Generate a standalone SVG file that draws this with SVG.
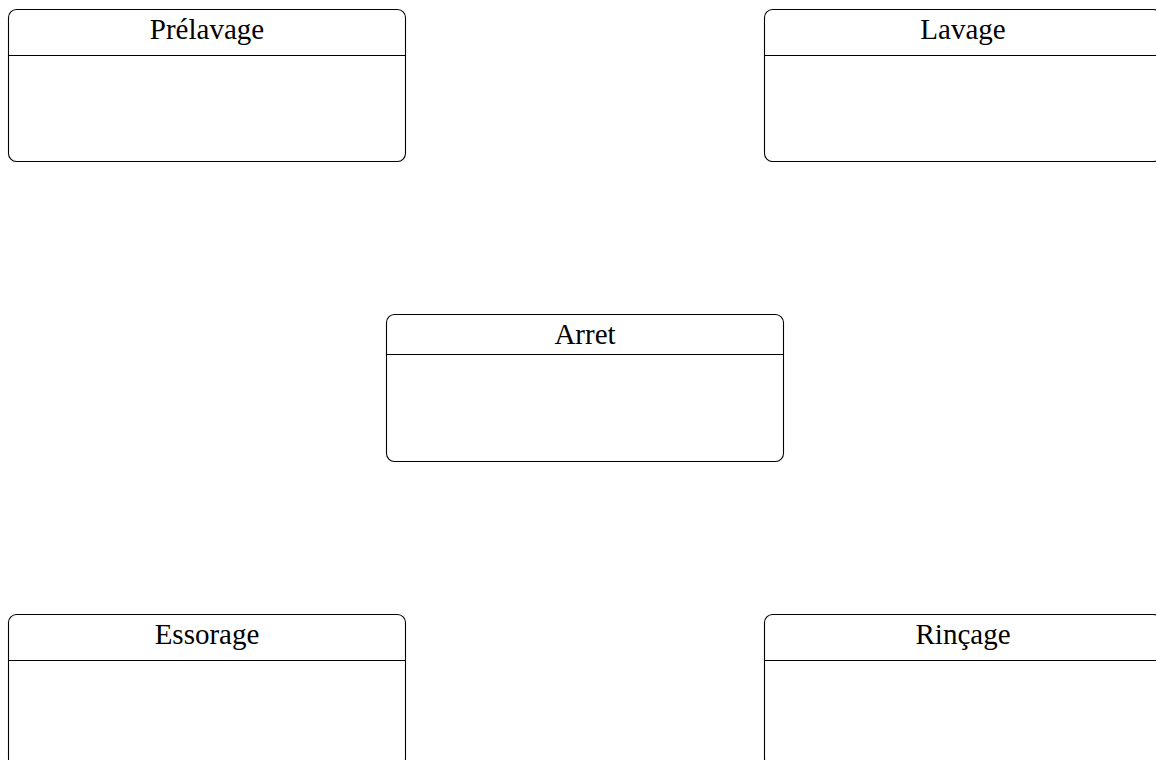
<svg xmlns="http://www.w3.org/2000/svg" width="1156" height="760" viewBox="0 0 1156 760">
<style>
.box{fill:#fff;stroke:#000;stroke-width:1.1}
.div{stroke:#000;stroke-width:1.1;fill:none}
.lbl{font-family:"Liberation Serif","DejaVu Serif",serif;font-size:29px;fill:#000;text-anchor:middle}
</style>
<rect width="1156" height="760" fill="#fff"/>
<g id="connectors"></g>
<g id="prelavage">
<rect class="box" x="8.5" y="9.5" width="397" height="152" rx="8" ry="8"/>
<line class="div" x1="8.5" y1="55.5" x2="405.5" y2="55.5"/>
<text class="lbl" x="207" y="39">Prélavage</text>
</g>
<g id="lavage">
<rect class="box" x="764.5" y="9.5" width="397" height="152" rx="8" ry="8"/>
<line class="div" x1="764.5" y1="55.5" x2="1161.5" y2="55.5"/>
<text class="lbl" x="963" y="39">Lavage</text>
</g>
<g id="arret">
<rect class="box" x="386.5" y="314.5" width="397" height="147" rx="8" ry="8"/>
<line class="div" x1="386.5" y1="354.5" x2="783.5" y2="354.5"/>
<text class="lbl" x="585" y="344">Arret</text>
</g>
<g id="essorage">
<rect class="box" x="8.5" y="614.5" width="397" height="152" rx="8" ry="8"/>
<line class="div" x1="8.5" y1="660.5" x2="405.5" y2="660.5"/>
<text class="lbl" x="207" y="644">Essorage</text>
</g>
<g id="rincage">
<rect class="box" x="764.5" y="614.5" width="397" height="152" rx="8" ry="8"/>
<line class="div" x1="764.5" y1="660.5" x2="1161.5" y2="660.5"/>
<text class="lbl" x="963" y="644">Rinçage</text>
</g>
</svg>
